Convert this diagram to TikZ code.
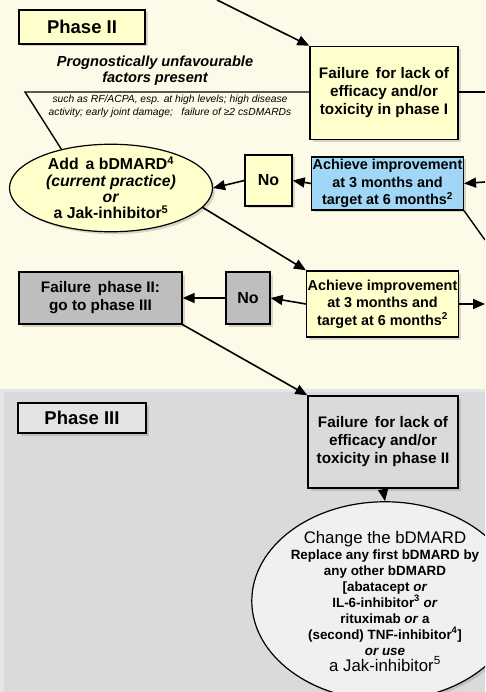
\documentclass[tikz,border=0pt]{standalone}
\usepackage{fontspec}
\setmainfont{Liberation Sans}
\usetikzlibrary{shapes.geometric,arrows.meta,shadows}
\definecolor{phasecream}{RGB}{253,251,232}
\definecolor{phasegray}{RGB}{218,218,218}
\definecolor{boxyellow}{RGB}{255,255,204}
\definecolor{boxblue}{RGB}{160,214,246}
\definecolor{boxgray}{RGB}{190,190,190}
\definecolor{boxlight}{RGB}{228,228,228}
\definecolor{ovallight}{RGB}{240,240,240}

\tikzset{
  boxshadow/.style={drop shadow={shadow xshift=2.5pt,shadow yshift=-2.5pt,opacity=0.3}},
  flowbox/.style={draw, line width=1.4pt, align=center, inner sep=1pt, boxshadow,
    font=\bfseries\fontsize{15.3}{18}\selectfont},
  phasebox/.style={flowbox, font=\bfseries\fontsize{18.5}{20}\selectfont},
  achievebox/.style={flowbox, minimum width=149pt, minimum height=53pt,
    font=\bfseries\fontsize{14.4}{17.5}\selectfont},
  oval/.style={ellipse, draw, line width=1.2pt, inner sep=0pt, align=center, boxshadow},
  flow/.style={line width=1.6pt, ->},
  >={Triangle[length=12pt,width=10pt]}
}

\begin{document}
\begin{tikzpicture}[x=1pt,y=-1pt]
    \useasboundingbox (0,0) rectangle (485,692);
    \clip (0,0) rectangle (485,692);

    % Phase backgrounds
    \fill[phasecream] (0,0) rectangle (485,389);
    \fill[phasegray!70] (0,389) rectangle (485,692);
    \fill[phasegray] (4,392) rectangle (485,692);

    % Phase II
    \node[phasebox, fill=boxyellow, minimum width=126pt, minimum height=34pt] (phasetwo) at (82,27) {Phase II};

    \node[font=\bfseries\itshape\fontsize{14.6}{16}\selectfont, align=center] (prog) at (155,71)
        {Prognostically unfavourable\\factors present};
    \node[font=\itshape\fontsize{10.3}{13}\selectfont, align=center] (such) at (170,106.5)
        {such as RF/ACPA, esp. at high levels; high disease\\activity; early joint damage; \ \ failure of ≥2 csDMARDs};

    \node[flowbox, fill=boxyellow, minimum width=148pt, minimum height=93pt] (failone) at (384,93)
        {Failure \,for lack of\\efficacy and/or\\toxicity in phase I};

    \node[achievebox, fill=boxblue] (achone) at (387.5,183.5)
        {Achieve improvement\\at 3 months and\\target at 6 months\textsuperscript{2}};

    \node[flowbox, fill=boxyellow, minimum width=47pt, minimum height=51pt,
        font=\bfseries\fontsize{16}{18}\selectfont] (noone) at (268.5,180.5) {No};

    \node[oval, fill=boxyellow, minimum width=203pt, minimum height=80pt,
        font=\bfseries\fontsize{15.8}{16.3}\selectfont] (addoval) at (111,188)
        {Add \,a bDMARD\textsuperscript{4}\\\textit{(current practice)}\\\textit{or}\\a Jak-inhibitor\textsuperscript{5}};

    \node[achievebox, fill=boxyellow, minimum width=151pt, minimum height=66pt] (achtwo) at (382.5,304)
        {Achieve improvement\\at 3 months and\\target at 6 months\textsuperscript{2}};

    \node[flowbox, fill=boxgray, minimum width=44pt, minimum height=52pt,
        font=\bfseries\fontsize{16}{18}\selectfont] (notwo) at (248,298) {No};

    \node[flowbox, fill=boxgray, minimum width=163pt, minimum height=52pt] (failtwo) at (100.5,298)
        {Failure \,phase II:\\go to phase III};

    % Phase III
    \node[phasebox, fill=boxlight, minimum width=128pt, minimum height=30pt] (phasethree) at (82,418) {Phase III};

    \node[flowbox, fill=phasegray, minimum width=150pt, minimum height=92pt] (failthree) at (383,442)
        {Failure \,for lack of\\efficacy and/or\\toxicity in phase II};

    \node[oval, fill=ovallight, minimum width=266pt, minimum height=174pt,
        font=\bfseries\fontsize{13.4}{16}\selectfont] (changeoval) at (385,601)
        {{\mdseries\fontsize{16.8}{18}\selectfont Change the bDMARD}\\Replace any first bDMARD by\\any other bDMARD\\
         {[}abatacept \textit{or}\\IL-6-inhibitor\textsuperscript{3} \textit{or}\\rituximab \textit{or} a\\
         (second) TNF-inhibitor\textsuperscript{4}]\\\textit{or use}\\
         {\mdseries\fontsize{16.8}{18}\selectfont a Jak-inhibitor\textsuperscript{5}}};

    % loose ends at the picture's border
    \coordinate (topin) at (217,0);
    \coordinate (factors) at (25,92);
    \coordinate (rightone) at (485,92);
    \coordinate (righttwo) at (485,182);
    \coordinate (rightthree) at (485,240);
    \coordinate (bottomout) at (385,692);

    % Connectors
    \draw[flow] (topin) -- (failone.north west);
    \draw[line width=1.4pt] (failone.west |- factors) -- (factors) -- (addoval.142);
    \draw[line width=1.4pt] (failone.east |- rightone) -- (rightone);
    \draw[flow] (righttwo) -- (achone.east);
    \draw[line width=1.4pt] (achone.south east) -- (rightthree);
    \draw[flow] (achone.west) -- (noone.east);
    \draw[flow] (noone.west) -- (addoval.east);
    \draw[flow] (addoval.-12) -- (achtwo.north west);
    \draw[flow] (achtwo.east) -- ++(26,0);
    \draw[flow] (achtwo.west) -- (notwo.east);
    \draw[flow] (notwo.west) -- (failtwo.east);
    \draw[flow] (failtwo.south east) -- (failthree.north west);
    \draw[flow] (failthree.south) -- (changeoval.north);
    \draw[line width=1.4pt] (changeoval.south) -- (bottomout);
\end{tikzpicture}
\end{document}
